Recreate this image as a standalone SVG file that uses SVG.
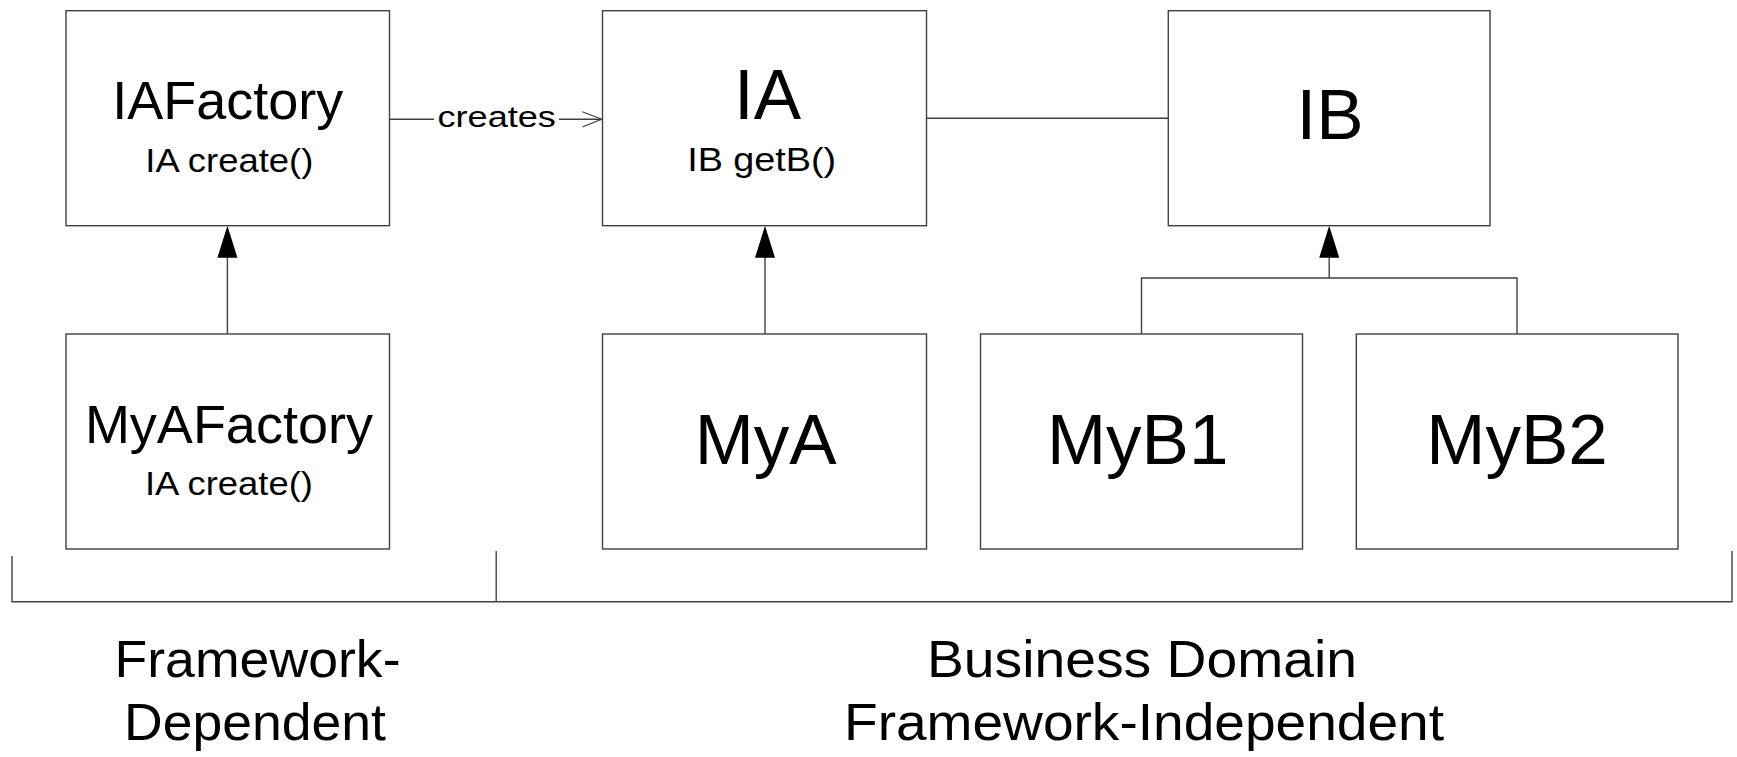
<svg xmlns="http://www.w3.org/2000/svg" width="1737" height="757" viewBox="0 0 1737 757">
<style>
.box{fill:#fff;stroke:#404040;stroke-width:1.4}
.ln{fill:none;stroke:#404040;stroke-width:1.4}
.open{fill:none;stroke:#404040;stroke-width:1.2}
.head{fill:#000;stroke:none}
text{font-family:"Liberation Sans",Arial,sans-serif;fill:#000;text-anchor:middle}
.big{font-size:71px}
.mid{font-size:54px}
.small{font-size:33px}
.lbl{font-size:30px}
.bot{font-size:52px}
</style>
<rect width="1737" height="757" fill="#fff"/>
<g id="connectors">
  <line class="ln" x1="389.5" y1="119.3" x2="434" y2="119.3"/>
  <line class="ln" x1="559" y1="119.3" x2="601.7" y2="119.3"/>
  <polyline class="open" points="582.3,111.7 601.7,119.3 582.3,127"/>
  <text class="lbl" x="496.7" y="127" textLength="118.5" lengthAdjust="spacingAndGlyphs">creates</text>
  <line class="ln" x1="926.5" y1="118.3" x2="1168.3" y2="118.3"/>
  <line class="ln" x1="227.4" y1="334" x2="227.4" y2="256"/>
  <polygon class="head" points="227.4,225.7 217.4,257.7 237.4,257.7"/>
  <line class="ln" x1="765" y1="334" x2="765" y2="256"/>
  <polygon class="head" points="765,225.7 755,257.7 775,257.7"/>
  <polyline class="ln" points="1141.5,334 1141.5,278 1517,278 1517,334"/>
  <line class="ln" x1="1329.2" y1="278" x2="1329.2" y2="256"/>
  <polygon class="head" points="1329.2,225.7 1319.2,257.7 1339.2,257.7"/>
  <polyline class="ln" points="12,556 12,601.7 1732,601.7 1732,551"/>
  <line class="ln" x1="496.2" y1="551" x2="496.2" y2="601.7"/>
</g>
<g id="IAFactory">
  <rect class="box" x="66" y="10.7" width="323.5" height="215"/>
  <text class="mid" x="227.7" y="119">IAFactory</text>
  <text class="small" x="229.3" y="172" textLength="168" lengthAdjust="spacingAndGlyphs">IA create()</text>
</g>
<g id="IA">
  <rect class="box" x="602.5" y="10.7" width="324" height="215"/>
  <text class="big" x="767.5" y="119.3">IA</text>
  <text class="small" x="761.7" y="170.5" textLength="149" lengthAdjust="spacingAndGlyphs">IB getB()</text>
</g>
<g id="IB">
  <rect class="box" x="1168.3" y="10.7" width="321.7" height="215"/>
  <text class="big" x="1330" y="139.3">IB</text>
</g>
<g id="MyAFactory">
  <rect class="box" x="66" y="334" width="323.5" height="215"/>
  <text class="mid" x="228.9" y="442.7">MyAFactory</text>
  <text class="small" x="229" y="495" textLength="168" lengthAdjust="spacingAndGlyphs">IA create()</text>
</g>
<g id="MyA">
  <rect class="box" x="602.5" y="334" width="324" height="215"/>
  <text class="big" x="765.7" y="464">MyA</text>
</g>
<g id="MyB1">
  <rect class="box" x="980.5" y="334" width="322" height="215"/>
  <text class="big" x="1137.7" y="464">MyB1</text>
</g>
<g id="MyB2">
  <rect class="box" x="1356.3" y="334" width="321.7" height="215"/>
  <text class="big" x="1517" y="464">MyB2</text>
</g>
<g id="labels">
  <text class="bot" x="257.5" y="677" textLength="286" lengthAdjust="spacingAndGlyphs">Framework-</text>
  <text class="bot" x="255" y="740" textLength="262" lengthAdjust="spacingAndGlyphs">Dependent</text>
  <text class="bot" x="1142" y="677" textLength="430" lengthAdjust="spacingAndGlyphs">Business Domain</text>
  <text class="bot" x="1144" y="740" textLength="600" lengthAdjust="spacingAndGlyphs">Framework-Independent</text>
</g>
</svg>
